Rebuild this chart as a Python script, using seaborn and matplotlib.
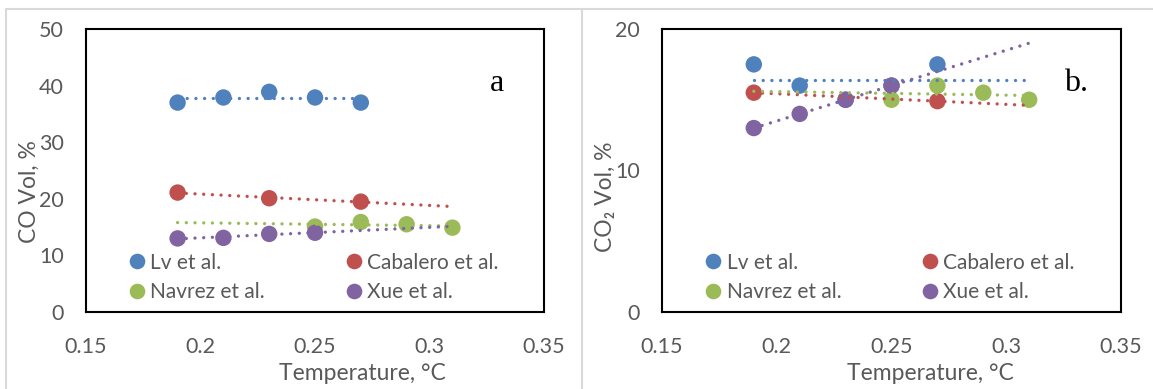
"""Scatter of CO and CO2 volume vs temperature with linear trend lines."""
import numpy as np
import pandas as pd
import seaborn as sns
import matplotlib.pyplot as plt
from matplotlib.lines import Line2D

studies = ['Lv et al.', 'Cabalero et al.', 'Navrez et al.', 'Xue et al.']
colors = ['#4F81BD', '#C0504D', '#9BBB59', '#8064A2']

# panel a: CO
co_lv_x = [0.19, 0.21, 0.23, 0.25, 0.27]
co_lv_y = [37.0, 37.9, 38.9, 37.9, 37.0]
co_cab_x = [0.19, 0.23, 0.27]
co_cab_y = [21.1, 20.1, 19.5]
co_nav_x = [0.25, 0.27, 0.29, 0.31]
co_nav_y = [15.1, 15.9, 15.5, 14.9]
co_xue_x = [0.19, 0.21, 0.23, 0.25]
co_xue_y = [13.0, 13.1, 13.8, 14.0]
co_trend_end = [0.27, 0.31, 0.31, 0.31]

# panel b: CO2
co2_lv_x = [0.19, 0.21, 0.23, 0.25, 0.27]
co2_lv_y = [17.5, 16.0, 15.0, 16.0, 17.5]
co2_cab_x = [0.19, 0.27]
co2_cab_y = [15.5, 14.9]
co2_nav_x = [0.25, 0.27, 0.29, 0.31]
co2_nav_y = [15.0, 16.0, 15.5, 15.0]
co2_xue_x = [0.19, 0.21, 0.23, 0.25]
co2_xue_y = [13.0, 14.0, 15.0, 16.0]
co2_trend_end = [0.31, 0.31, 0.31, 0.31]

trend_start = 0.19
x_ticks = [0.15, 0.2, 0.25, 0.3, 0.35]
x_tick_labels = ['0.15', '0.2', '0.25', '0.3', '0.35']

sns.set_style('white')
plt.rcParams['font.family'] = ['Lato', 'DejaVu Sans']

GREY = '#595959'
FS = 15.5


def draw_panel(ax, xs, ys, trend_end, ymax, ystep, ylabel, tag, tag_x, xlab_x, ylab_y):
    rows = []
    for name, x, y in zip(studies, xs, ys):
        for xi, yi in zip(x, y):
            rows.append({'study': name, 'temp': xi, 'vol': yi})
    df = pd.DataFrame(rows)

    sns.scatterplot(data=df, x='temp', y='vol', hue='study', hue_order=studies,
                    palette=colors, s=140, linewidth=0, ax=ax, zorder=2)

    # linear trend lines like excel
    for x, y, end, c in zip(xs, ys, trend_end, colors):
        coef = np.polyfit(x, y, 1)
        tx = np.array([trend_start, end])
        ax.plot(tx, np.polyval(coef, tx), color=c, lw=2.4,
                ls=(0, (0.01, 2.6)), dash_capstyle='round', zorder=3)

    ax.set_xlim(0.15, 0.35)
    ax.set_ylim(0, ymax)
    ax.set_xticks(x_ticks)
    ax.set_xticklabels(x_tick_labels)
    ax.set_yticks(np.arange(0, ymax + 1, ystep))
    ax.tick_params(length=0, labelsize=FS, colors=GREY)
    ax.tick_params(axis='y', pad=16)
    ax.tick_params(axis='x', pad=18)
    for sp in ax.spines.values():
        sp.set_visible(True)
        sp.set_color('black')
        sp.set_linewidth(1.5)

    ax.set_xlabel('Temperature, °C', fontsize=FS + 1, color=GREY)
    ax.xaxis.set_label_coords(xlab_x, -0.24)
    ax.xaxis.label.set_va('baseline')
    ax.set_ylabel(ylabel, fontsize=FS + 1, color=GREY)
    ax.yaxis.set_label_coords(-0.123, ylab_y)
    ax.yaxis.label.set_va('center')

    handles, labels = ax.get_legend_handles_labels()
    order = [0, 2, 1, 3]
    leg = ax.legend([handles[i] for i in order], [labels[i] for i in order],
                    ncol=2, loc='lower left', bbox_to_anchor=(0.093, 0.035),
                    frameon=False, fontsize=FS - 0.5, handlelength=0.8,
                    handletextpad=0.25, columnspacing=3.85, labelspacing=0.45,
                    borderpad=0, borderaxespad=0, markerscale=0.95)
    for t in leg.get_texts():
        t.set_color(GREY)

    ax.text(tag_x, 0.782, tag, transform=ax.transAxes, fontsize=23,
            family='Liberation Serif', ha='left', va='baseline', color='black')


fig = plt.figure(figsize=(11.53, 3.89), dpi=100)
ax_a = fig.add_axes([86 / 1153, 77 / 389, 458 / 1153, 283 / 389])
ax_b = fig.add_axes([662 / 1153, 77 / 389, 459 / 1153, 283 / 389])

draw_panel(ax_a, [co_lv_x, co_cab_x, co_nav_x, co_xue_x],
           [co_lv_y, co_cab_y, co_nav_y, co_xue_y], co_trend_end,
           50, 10, 'CO Vol, %', 'a', 0.882, 0.603, 0.426)
draw_panel(ax_b, [co2_lv_x, co2_cab_x, co2_nav_x, co2_xue_x],
           [co2_lv_y, co2_cab_y, co2_nav_y, co2_xue_y], co2_trend_end,
           20, 10, 'CO₂ Vol, %', 'b.', 0.876, 0.584, 0.408)

# light chart-area borders
border = dict(color='#D9D9D9', lw=1.5, transform=fig.transFigure)
fig.add_artist(Line2D([5.7 / 1153, 1], [1 - 9 / 389, 1 - 9 / 389], **border))
fig.add_artist(Line2D([5.7 / 1153, 5.7 / 1153], [0, 1 - 9 / 389], **border))
fig.add_artist(Line2D([581.7 / 1153, 581.7 / 1153], [0, 1 - 9 / 389], **border))

fig.savefig('out.png', dpi=100)
plt.close(fig)
